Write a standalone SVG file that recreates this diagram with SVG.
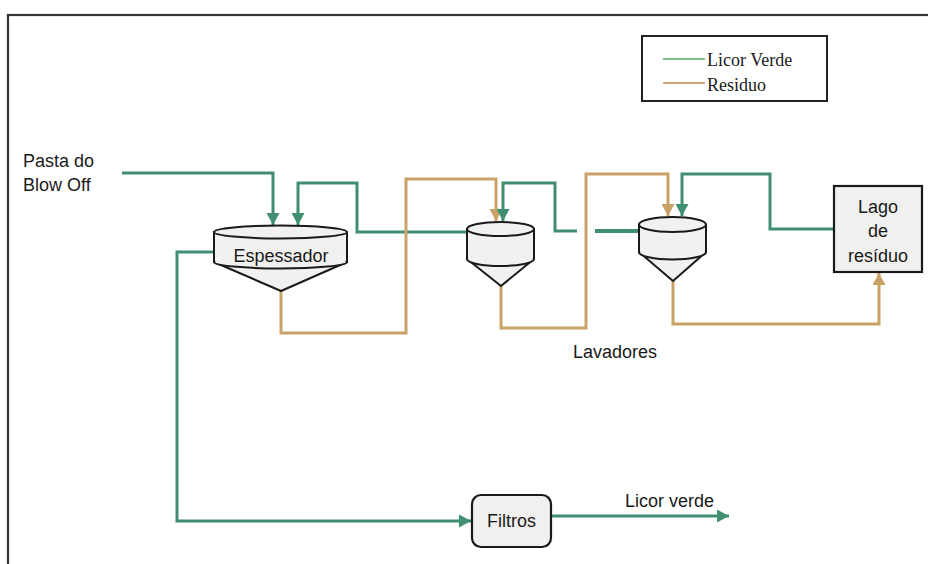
<svg xmlns="http://www.w3.org/2000/svg" width="928" height="564" viewBox="0 0 928 564">
  <style>
    .frame { fill: none; stroke: #333; stroke-width: 2.2; }
    .g { fill: none; stroke: #3f8f70; stroke-width: 3; stroke-linejoin: miter; }
    .o { fill: none; stroke: #c9a268; stroke-width: 3; stroke-linejoin: miter; }
    .ga { marker-end: url(#arrowG); }
    .oa { marker-end: url(#arrowO); }
    .vessel { fill: #f1f1ef; stroke: #1a1a1a; stroke-width: 2; stroke-linejoin: round; }
    .box { fill: #f0f0ee; stroke: #1a1a1a; stroke-width: 2.2; }
    .lbl { font-family: "Liberation Sans", Arial, sans-serif; font-size: 18px; fill: #1a1a1a; }
    .leg { font-family: "Liberation Serif", "Times New Roman", serif; font-size: 18px; fill: #1a1a1a; }
  </style>
  <defs>
    <marker id="arrowG" markerUnits="userSpaceOnUse" markerWidth="13" markerHeight="13" refX="12" refY="6.5" orient="auto">
      <path d="M0,0 L12,6.5 L0,13 z" fill="#3f8f70"/>
    </marker>
    <marker id="arrowO" markerUnits="userSpaceOnUse" markerWidth="13" markerHeight="13" refX="12" refY="6.5" orient="auto">
      <path d="M0,0 L12,6.5 L0,13 z" fill="#c9a268"/>
    </marker>
  </defs>

  <rect width="928" height="564" fill="#ffffff"/>
  <!-- outer frame -->
  <rect class="frame" x="8" y="15" width="950" height="600"/>

  <!-- legend -->
  <g id="legend">
    <rect x="642" y="36" width="185" height="65" fill="#ffffff" stroke="#222" stroke-width="2"/>
    <line x1="663" y1="59" x2="705" y2="59" stroke="#7fc093" stroke-width="2"/>
    <text class="leg" x="707" y="66">Licor Verde</text>
    <line x1="663" y1="83" x2="705" y2="83" stroke="#d9a574" stroke-width="2"/>
    <text class="leg" x="707" y="91">Residuo</text>
  </g>

  <!-- connectors -->
  <g id="connectors">
    <!-- feed into thickener -->
    <polyline class="g ga" points="122,173 273,173 273,225"/>
    <!-- overflow from middle washer back to thickener -->
    <polyline class="g ga" points="467,232 357,232 357,183 298,183 298,225"/>
    <!-- thickener underflow to middle washer -->
    <polyline class="o oa" points="281,291 281,333 406,333 406,179 496,179 496,221"/>
    <!-- overflow from right washer back to middle washer -->
    <polyline class="g ga" points="577,231 555,231 555,183 503,183 503,221"/>
    <line x1="595" y1="231" x2="640" y2="231" stroke="#3f8f70" stroke-width="4"/>
    <!-- middle washer underflow to right washer -->
    <polyline class="o oa" points="501,286 501,328 586,328 586,174 668,174 668,216"/>
    <!-- return from pond to right washer -->
    <polyline class="g ga" points="834,229 770,229 770,174 682,174 682,216"/>
    <!-- right washer underflow to pond -->
    <polyline class="o oa" points="673,281 673,324 879,324 879,273"/>
    <!-- thickener overflow to filters -->
    <polyline class="g ga" points="214,252 177,252 177,521 471,521"/>
    <!-- filters output -->
    <polyline class="g ga" points="551,516 729,516"/>
  </g>

  <!-- thickener -->
  <g id="espessador">
    <path class="vessel" d="M214,232 L214,262 L281,291 L347,262 L347,232 Z"/>
    <path class="vessel" d="M214,262 A66.5,6.5 0 0 0 347,262" fill="none"/>
    <ellipse class="vessel" cx="280.5" cy="232" rx="66.5" ry="6.5"/>
    <text class="lbl" x="281" y="262" text-anchor="middle">Espessador</text>
  </g>

  <!-- middle washer -->
  <g id="lavador1">
    <path class="vessel" d="M467,229 L467,259 L501,286 L534,259 L534,229 Z"/>
    <path class="vessel" d="M467,259 A33.5,7 0 0 0 534,259" fill="none"/>
    <ellipse class="vessel" cx="500.5" cy="229" rx="33.5" ry="7"/>
  </g>

  <!-- right washer -->
  <g id="lavador2">
    <path class="vessel" d="M639,224.5 L639,252 L673,281 L706,252 L706,224.5 Z"/>
    <path class="vessel" d="M639,252 A33.5,7.5 0 0 0 706,252" fill="none"/>
    <ellipse class="vessel" cx="672.5" cy="224.5" rx="33.5" ry="7.5"/>
  </g>

  <!-- residue pond -->
  <g id="lago">
    <rect class="box" x="834" y="186" width="88" height="86"/>
    <text class="lbl" x="878" y="213" text-anchor="middle">Lago</text>
    <text class="lbl" x="878" y="237" text-anchor="middle">de</text>
    <text class="lbl" x="878" y="262" text-anchor="middle">resíduo</text>
  </g>

  <!-- filters -->
  <g id="filtros">
    <rect class="box" x="472" y="495" width="79" height="52" rx="9" ry="9"/>
    <text class="lbl" x="511.5" y="527" text-anchor="middle">Filtros</text>
  </g>

  <!-- free labels -->
  <g id="labels">
    <text class="lbl" x="23" y="167">Pasta do</text>
    <text class="lbl" x="23" y="191">Blow Off</text>
    <text class="lbl" x="573" y="358">Lavadores</text>
    <text class="lbl" x="625" y="507">Licor verde</text>
  </g>
</svg>
